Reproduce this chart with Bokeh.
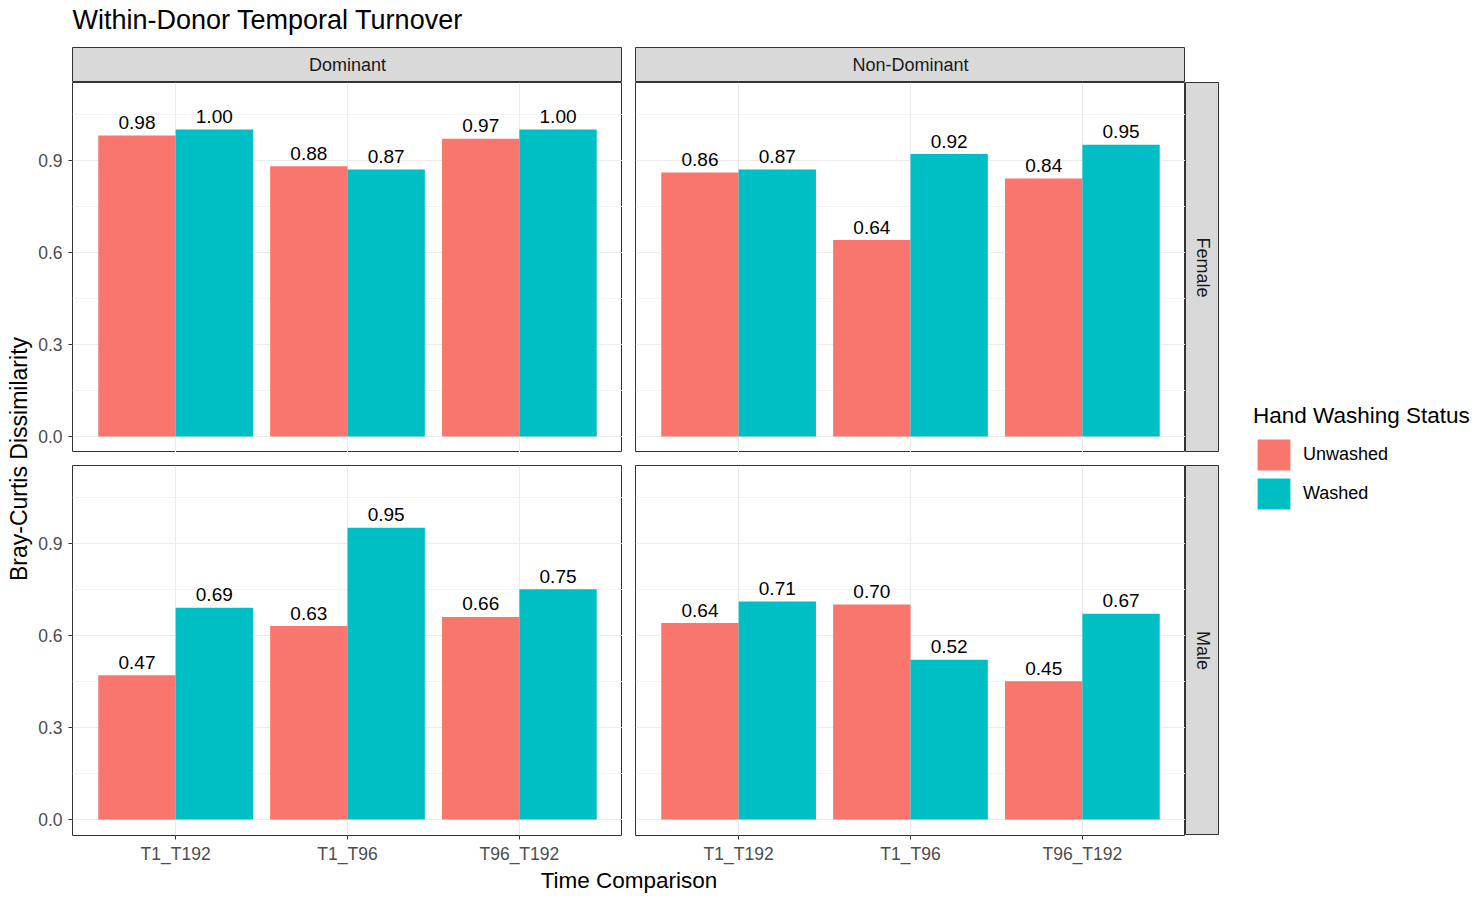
import math
from bokeh.plotting import figure
from bokeh.models import (FactorRange, Range1d, ColumnDataSource, FixedTicker, CategoricalTicker,
                          Grid, Label, Legend, LegendItem, Spacer, PrintfTickFormatter)
from bokeh.transform import dodge
from bokeh.layouts import row, column
from bokeh.embed import file_html
from bokeh.resources import INLINE
from bokeh.core.properties import value

# ---------------- data ----------------
TITLE = "Within-Donor Temporal Turnover"
Y_LABEL = "Bray-Curtis Dissimilarity"
X_LABEL = "Time Comparison"
LEGEND_TITLE = "Hand Washing Status"

comparisons = ["T1_T192", "T1_T96", "T96_T192"]
hands = ["Dominant", "Non-Dominant"]
sexes = ["Female", "Male"]
statuses = ["Unwashed", "Washed"]
status_colors = ["#F8766D", "#00BFC4"]

female_dominant_unwashed = [0.98, 0.88, 0.97]
female_dominant_washed = [1.00, 0.87, 1.00]
female_nondominant_unwashed = [0.86, 0.64, 0.84]
female_nondominant_washed = [0.87, 0.92, 0.95]
male_dominant_unwashed = [0.47, 0.63, 0.66]
male_dominant_washed = [0.69, 0.95, 0.75]
male_nondominant_unwashed = [0.64, 0.70, 0.45]
male_nondominant_washed = [0.71, 0.52, 0.67]

y_ticks = [0.0, 0.3, 0.6, 0.9]
y_minor_ticks = [0.15, 0.45, 0.75, 1.05]

# ---------------- style ----------------
FONT = "Liberation Sans"
FRAME_W = 550
FRAME_H = 370
STRIP_H = 35
STRIP_W = 34
GAP = 13
YAX_W = 38
YLAB_W = 34
TITLE_H = 47
XLAB_H = 30
BORDER = "#333333"


def base_fig(**kw):
    opts = dict(toolbar_location=None, output_backend="svg", title_location=None,
                min_border=0, x_axis_location=None, y_axis_location=None)
    opts.update(kw)
    p = figure(**opts)
    p.center = []
    return p


def panel(unw, wsh, left_axis, bottom_axis):
    src = ColumnDataSource(dict(
        comp=comparisons, unw=unw, wsh=wsh,
        unw_lbl=[f"{v:.2f}" for v in unw], wsh_lbl=[f"{v:.2f}" for v in wsh]))
    p = base_fig(
        x_range=FactorRange(factors=comparisons, range_padding=0.1, range_padding_units="absolute"),
        y_range=Range1d(-0.052, 1.153),
        frame_width=FRAME_W, frame_height=FRAME_H,
        x_axis_location="below" if bottom_axis else None,
        y_axis_location="left" if left_axis else None,
        min_border_left=YAX_W if left_axis else 0,
        background_fill_color="white", border_fill_color="white",
        outline_line_color=BORDER, outline_line_width=1)
    p.center = []
    p.add_layout(Grid(dimension=1, ticker=FixedTicker(ticks=y_ticks, minor_ticks=y_minor_ticks),
                      grid_line_color="#EBEBEB", grid_line_width=1.1,
                      minor_grid_line_color="#F3F3F3", minor_grid_line_width=1), "center")
    p.add_layout(Grid(dimension=0, ticker=CategoricalTicker(),
                      grid_line_color="#EBEBEB", grid_line_width=1.1), "center")

    for col, off, color, lbl in (("unw", -0.225, status_colors[0], "unw_lbl"),
                                 ("wsh", 0.225, status_colors[1], "wsh_lbl")):
        p.vbar(x=dodge("comp", off, range=p.x_range), top=col, bottom=0, width=0.45,
               source=src, fill_color=color, line_color=None)
        p.text(x=dodge("comp", off, range=p.x_range), y=col, text=lbl, source=src,
               text_align="center", text_baseline="middle", y_offset=-13,
               text_font=value(FONT), text_font_size="19px", text_color="black")

    for ax in p.axis:
        ax.axis_line_color = None
        ax.major_tick_line_color = BORDER
        ax.major_tick_line_width = 1
        ax.major_tick_out = 4
        ax.major_tick_in = 0
        ax.minor_tick_line_color = None
        ax.major_label_text_color = "#4D4D4D"
        ax.major_label_text_font = FONT
        ax.major_label_text_font_size = "17.5px"
    if left_axis:
        p.yaxis.ticker = FixedTicker(ticks=y_ticks)
        p.yaxis.formatter = PrintfTickFormatter(format="%.1f")
        p.yaxis.major_label_standoff = 6
    if bottom_axis:
        p.xaxis.major_label_standoff = 4
    return p


def strip(text, w, h, left=0, vertical=False):
    p = base_fig(frame_width=w, frame_height=h, x_range=Range1d(0, 1), y_range=Range1d(0, 1),
                 min_border_left=left, background_fill_color="#D9D9D9",
                 border_fill_color="white", outline_line_color=BORDER, outline_line_width=1)
    p.add_layout(Label(x=0.5, y=0.5, text=text, text_align="center", text_baseline="middle",
                       angle=-math.pi / 2 if vertical else 0.0, text_font=FONT,
                       text_font_size="18px", text_color="#1A1A1A"))
    return p


# facet panels
pTL = panel(female_dominant_unwashed, female_dominant_washed, True, False)
pTR = panel(female_nondominant_unwashed, female_nondominant_washed, False, False)
pBL = panel(male_dominant_unwashed, male_dominant_washed, True, True)
pBR = panel(male_nondominant_unwashed, male_nondominant_washed, False, True)

sTL = strip(hands[0], FRAME_W, STRIP_H, left=YAX_W)
sTR = strip(hands[1], FRAME_W, STRIP_H)
sF = strip(sexes[0], STRIP_W, FRAME_H, vertical=True)
sM = strip(sexes[1], STRIP_W, FRAME_H, vertical=True)

TOTAL_W = 1475
PANELS_H = STRIP_H + FRAME_H + GAP + FRAME_H
LEG_W = TOTAL_W - (YLAB_W + YAX_W + FRAME_W + GAP + FRAME_W + STRIP_W)

# title
tf = base_fig(width=TOTAL_W, height=TITLE_H, x_range=Range1d(0, 1), y_range=Range1d(0, 1),
              outline_line_color=None)
tf.add_layout(Label(x=YLAB_W + YAX_W, y=TITLE_H - 19, x_units="screen", y_units="screen",
                    text=TITLE, text_font=FONT, text_font_size="27px", text_color="black",
                    text_baseline="middle"))

# y axis title
yf = base_fig(width=YLAB_W, height=PANELS_H, x_range=Range1d(0, 1), y_range=Range1d(0, 1),
              outline_line_color=None)
yf.add_layout(Label(x=18, y=(FRAME_H + GAP + FRAME_H) / 2, x_units="screen",
                    y_units="screen", text=Y_LABEL, angle=math.pi / 2, text_align="center",
                    text_baseline="middle", text_font=FONT, text_font_size="23px",
                    text_color="black"))

# x axis title
xf = base_fig(width=TOTAL_W, height=XLAB_H, x_range=Range1d(0, 1), y_range=Range1d(0, 1),
              outline_line_color=None)
xf.add_layout(Label(x=YLAB_W + YAX_W + (FRAME_W + GAP + FRAME_W) / 2, y=16,
                    x_units="screen", y_units="screen", text=X_LABEL, text_align="center",
                    text_baseline="middle", text_font=FONT, text_font_size="22.5px",
                    text_color="black"))

# legend
lf = base_fig(width=LEG_W, height=PANELS_H, x_range=Range1d(0, 1), y_range=Range1d(0, 1),
              outline_line_color=None)
rends = []
for c in status_colors:
    rends.append(lf.vbar(x=[0.0], top=[float("nan")], width=0.1, fill_color=c, line_color=None))
leg = Legend(items=[LegendItem(label=value(s), renderers=[r]) for s, r in zip(statuses, rends)],
             location=(34, 322), title=LEGEND_TITLE, title_text_font=FONT,
             title_text_font_size="22.5px", title_text_font_style="normal",
             title_text_color="black", title_standoff=6,
             label_text_font=FONT, label_text_font_size="18px", label_text_color="black",
             glyph_width=41, glyph_height=39, label_height=39, label_standoff=9,
             spacing=0, padding=0, margin=0, border_line_color=None,
             background_fill_alpha=0)
lf.add_layout(leg)

colL = column(sTL, pTL, Spacer(width=YAX_W + FRAME_W, height=GAP), pBL)
colR = column(sTR, pTR, Spacer(width=FRAME_W, height=GAP), pBR)
colS = column(Spacer(width=STRIP_W, height=STRIP_H), sF, Spacer(width=STRIP_W, height=GAP), sM)
main = row(yf, colL, Spacer(width=GAP, height=10), colR, colS, lf)
page = column(tf, main, xf)

open("out.html", "w").write(file_html(page, INLINE))
